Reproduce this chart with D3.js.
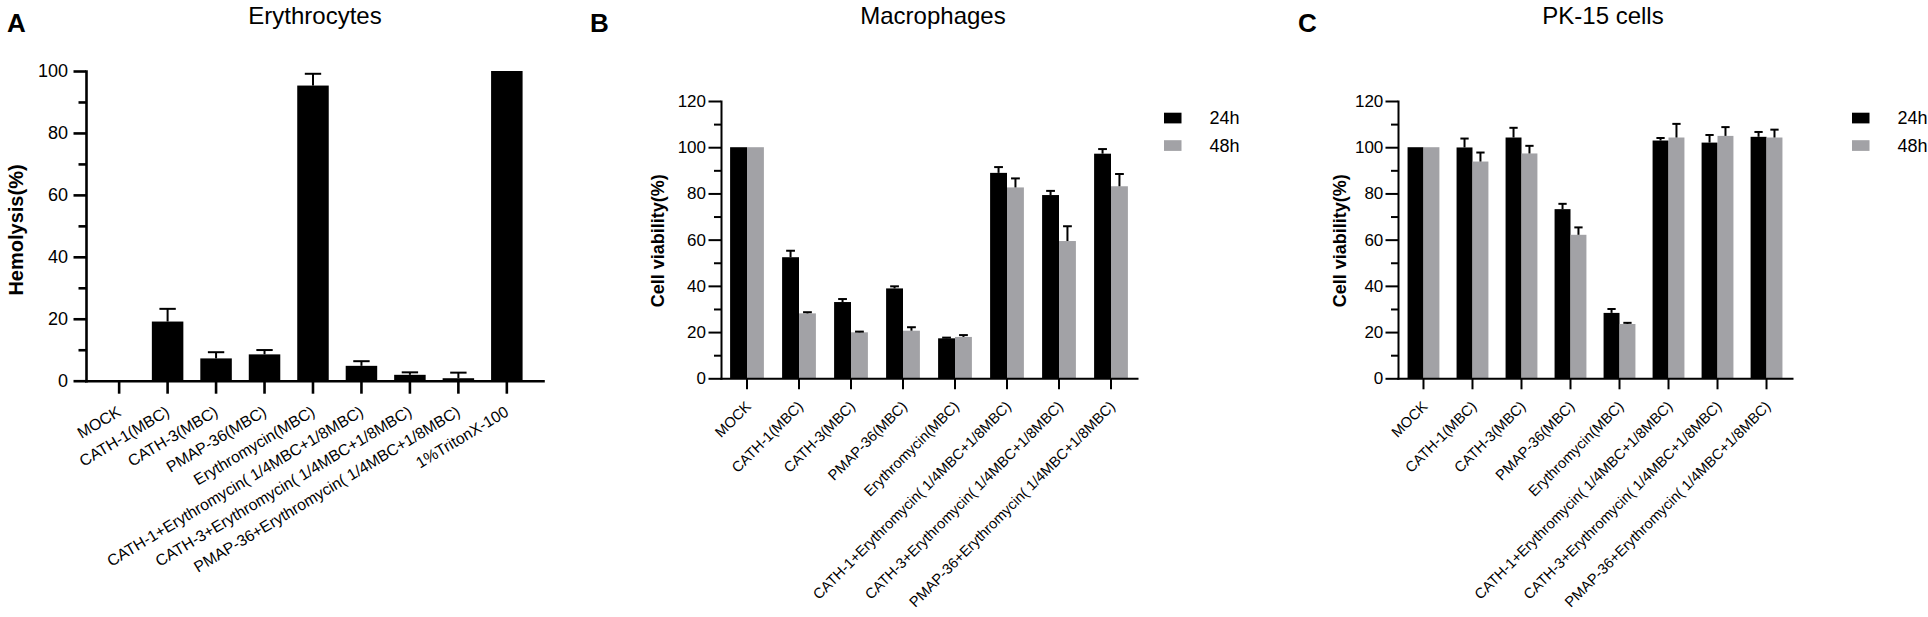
<!DOCTYPE html>
<html>
<head>
<meta charset="utf-8">
<script src="https://cdn.jsdelivr.net/npm/d3@7/dist/d3.min.js"></script>
<style>
  html, body { margin: 0; padding: 0; background: #fff; }
  svg { display: block; }
  text { font-family: "Liberation Sans", Arial, Helvetica, sans-serif; fill: #000; }
</style>
</head>
<body>
<svg id="chart" width="1928" height="617"></svg>
<script>
// ---------- DATA ----------
const categoriesA = ["MOCK", "CATH-1(MBC)", "CATH-3(MBC)", "PMAP-36(MBC)", "Erythromycin(MBC)",
  "CATH-1+Erythromycin( 1/4MBC+1/8MBC)", "CATH-3+Erythromycin( 1/4MBC+1/8MBC)",
  "PMAP-36+Erythromycin( 1/4MBC+1/8MBC)", "1%TritonX-100"];
const hemolysisMean = [0, 19.1, 7.2, 8.5, 95.3, 4.8, 1.9, 0.8, 100];
const hemolysisSD   = [0, 4.1, 2.0, 1.4, 3.8, 1.5, 0.8, 1.8, 0];

const categoriesBC = ["MOCK", "CATH-1(MBC)", "CATH-3(MBC)", "PMAP-36(MBC)", "Erythromycin(MBC)",
  "CATH-1+Erythromycin( 1/4MBC+1/8MBC)", "CATH-3+Erythromycin( 1/4MBC+1/8MBC)",
  "PMAP-36+Erythromycin( 1/4MBC+1/8MBC)"];
const seriesNames = ["24h", "48h"];

const macro24   = [100, 52.4, 33.0, 38.9, 17.3, 88.9, 79.3, 97.2];
const macro24SD = [0, 2.8, 1.3, 0.9, 0.3, 2.5, 1.8, 2.0];
const macro48   = [100, 28.1, 19.9, 20.6, 17.9, 82.6, 59.4, 83.1];
const macro48SD = [0, 0.5, 0.3, 1.5, 0.8, 3.9, 6.4, 5.3];

const pk24   = [100, 99.9, 104.2, 73.2, 28.3, 102.9, 102.0, 104.5];
const pk24SD = [0, 3.85, 4.2, 2.3, 1.7, 1.1, 3.3, 2.1];
const pk48   = [100, 93.8, 97.3, 62.1, 23.5, 104.2, 104.9, 104.2];
const pk48SD = [0, 3.9, 3.3, 3.2, 0.5, 5.9, 3.8, 3.4];

const yMajorA = [0, 20, 40, 60, 80, 100];
const yMinorA = [10, 30, 50, 70, 90];
const yMajorBC = [0, 20, 40, 60, 80, 100, 120];
const yMinorBC = [10, 30, 50, 70, 90, 110];

// ---------- DRAWING ----------
const svg = d3.select("#chart");
svg.append("rect").attr("width", 1928).attr("height", 617).attr("fill", "#fff");
const colors = ["#000000", "#a2a2a6"];

function drawPanel(cfg) {
  const g = svg.append("g");
  const y = d3.scaleLinear().domain(cfg.yDomain).range([cfg.y0, cfg.y1]);
  const x = d3.scaleBand().domain(cfg.categories).range([cfg.x0, cfg.x1])
    .paddingInner(cfg.padInner).paddingOuter(cfg.padOuter).align(cfg.align);

  const nSeries = cfg.series.length;
  const xs = d3.scaleBand().domain(d3.range(nSeries)).range([0, x.bandwidth()]);

  // bars
  cfg.series.forEach((s, si) => {
    g.append("g").selectAll("rect").data(s.values).join("rect")
      .attr("x", (d, i) => x(cfg.categories[i]) + xs(si))
      .attr("y", d => y(d))
      .attr("width", xs.bandwidth())
      .attr("height", d => y(0) - y(d))
      .attr("fill", colors[si]);
  });
  // error bars (upper only)
  cfg.series.forEach((s, si) => {
    const eg = g.append("g").attr("stroke", "#000").attr("stroke-width", cfg.errW);
    s.values.forEach((v, i) => {
      const sd = s.sd[i];
      if (!sd) return;
      const cx = x(cfg.categories[i]) + xs(si) + xs.bandwidth() / 2;
      const capHalf = xs.bandwidth() * 0.26;
      eg.append("line").attr("x1", cx).attr("x2", cx).attr("y1", y(v)).attr("y2", y(v + sd));
      eg.append("line").attr("x1", cx - capHalf).attr("x2", cx + capHalf)
        .attr("y1", y(v + sd)).attr("y2", y(v + sd));
    });
  });

  // y axis major
  const yAx = g.append("g").attr("transform", `translate(${cfg.x0},0)`)
    .call(d3.axisLeft(y).tickValues(cfg.yMajor).tickSize(cfg.majorTick).tickSizeOuter(0).tickPadding(cfg.tickPad));
  yAx.select(".domain").attr("stroke-width", cfg.axisW).attr("stroke-linecap", "square");
  yAx.selectAll(".tick line").attr("stroke-width", cfg.axisW);
  yAx.selectAll(".tick text").attr("font-size", cfg.tickFont).attr("font-family", null);
  // minor
  const yMin = g.append("g").attr("transform", `translate(${cfg.x0},0)`)
    .call(d3.axisLeft(y).tickValues(cfg.yMinor).tickSize(cfg.minorTick).tickSizeOuter(0).tickFormat(""));
  yMin.select(".domain").remove();
  yMin.selectAll(".tick line").attr("stroke-width", cfg.axisW);

  // x axis
  const xAx = g.append("g").attr("transform", `translate(0,${y(0)})`)
    .call(d3.axisBottom(x).tickSize(cfg.xTick).tickSizeOuter(0));
  xAx.select(".domain").attr("stroke-width", cfg.axisW).attr("stroke-linecap", "square");
  xAx.selectAll(".tick line").attr("stroke-width", cfg.axisW);
  xAx.selectAll(".tick text")
    .attr("font-size", cfg.labelFont).attr("font-family", null)
    .attr("text-anchor", "end")
    .attr("x", 0).attr("y", 0).attr("dy", 0)
    .attr("transform", `translate(${cfg.labelDx},${cfg.labelDy}) rotate(${-cfg.labelAngle})`);

  // y label
  g.append("text")
    .attr("transform", `translate(${cfg.ylabX},${cfg.ylabY}) rotate(-90)`)
    .attr("text-anchor", "middle").attr("dominant-baseline", "central")
    .attr("font-size", cfg.ylabFont).attr("font-weight", "bold")
    .text(cfg.ylabel);

  // title
  g.append("text").attr("x", cfg.titleX).attr("y", 24).attr("text-anchor", "middle")
    .attr("font-size", 24).text(cfg.title);
  // panel letter
  g.append("text").attr("x", cfg.letterX).attr("y", 32)
    .attr("font-size", 26).attr("font-weight", "bold").text(cfg.letter);

  // legend
  if (cfg.legendX !== undefined) {
    cfg.series.forEach((s, si) => {
      const ly = 112.7 + si * 27.5;
      g.append("rect").attr("x", cfg.legendX).attr("y", ly).attr("width", 17.5).attr("height", 10.7)
        .attr("fill", colors[si]);
      g.append("text").attr("x", cfg.legendX + 45.5).attr("y", ly + 5.4)
        .attr("dominant-baseline", "central").attr("font-size", 18).text(s.name);
    });
  }
}

drawPanel({
  categories: categoriesA,
  series: [{ name: "", values: hemolysisMean, sd: hemolysisSD }],
  yDomain: [0, 100], y0: 380.7, y1: 71,
  x0: 86, x1: 543, padInner: 0.35, padOuter: 0.39, align: 0.46,
  yMajor: yMajorA, yMinor: yMinorA,
  majorTick: 12.5, minorTick: 7.5, xTick: 13, tickPad: 5.5, tickFont: 18,
  axisW: 2.6, errW: 2,
  labelFont: 15.8, labelAngle: 31, labelDx: 3, labelDy: 34,
  ylabel: "Hemolysis(%)", ylabX: 16, ylabY: 230, ylabFont: 20,
  title: "Erythrocytes", titleX: 315, letter: "A", letterX: 7
});

drawPanel({
  categories: categoriesBC,
  series: [{ name: seriesNames[0], values: macro24, sd: macro24SD },
           { name: seriesNames[1], values: macro48, sd: macro48SD }],
  yDomain: [0, 120], y0: 378.3, y1: 101,
  x0: 721, x1: 1137, padInner: 0.35, padOuter: 0.175, align: 0.5,
  yMajor: yMajorBC, yMinor: yMinorBC,
  majorTick: 12.5, minorTick: 7, xTick: 11, tickPad: 2.5, tickFont: 17,
  axisW: 2, errW: 2,
  labelFont: 14.6, labelAngle: 45, labelDx: 5, labelDy: 29,
  ylabel: "Cell viability(%)", ylabX: 658, ylabY: 240.7, ylabFont: 18,
  title: "Macrophages", titleX: 933, letter: "B", letterX: 590,
  legendX: 1164
});

drawPanel({
  categories: categoriesBC,
  series: [{ name: seriesNames[0], values: pk24, sd: pk24SD },
           { name: seriesNames[1], values: pk48, sd: pk48SD }],
  yDomain: [0, 120], y0: 378.3, y1: 101,
  x0: 1398, x1: 1792, padInner: 0.35, padOuter: 0.195, align: 0.5,
  yMajor: yMajorBC, yMinor: yMinorBC,
  majorTick: 12.5, minorTick: 7, xTick: 11, tickPad: 2.2, tickFont: 17,
  axisW: 2, errW: 2,
  labelFont: 14.6, labelAngle: 45, labelDx: 5, labelDy: 29,
  ylabel: "Cell viability(%)", ylabX: 1340, ylabY: 240.7, ylabFont: 18,
  title: "PK-15 cells", titleX: 1603, letter: "C", letterX: 1298,
  legendX: 1852
});
</script>
</body>
</html>
